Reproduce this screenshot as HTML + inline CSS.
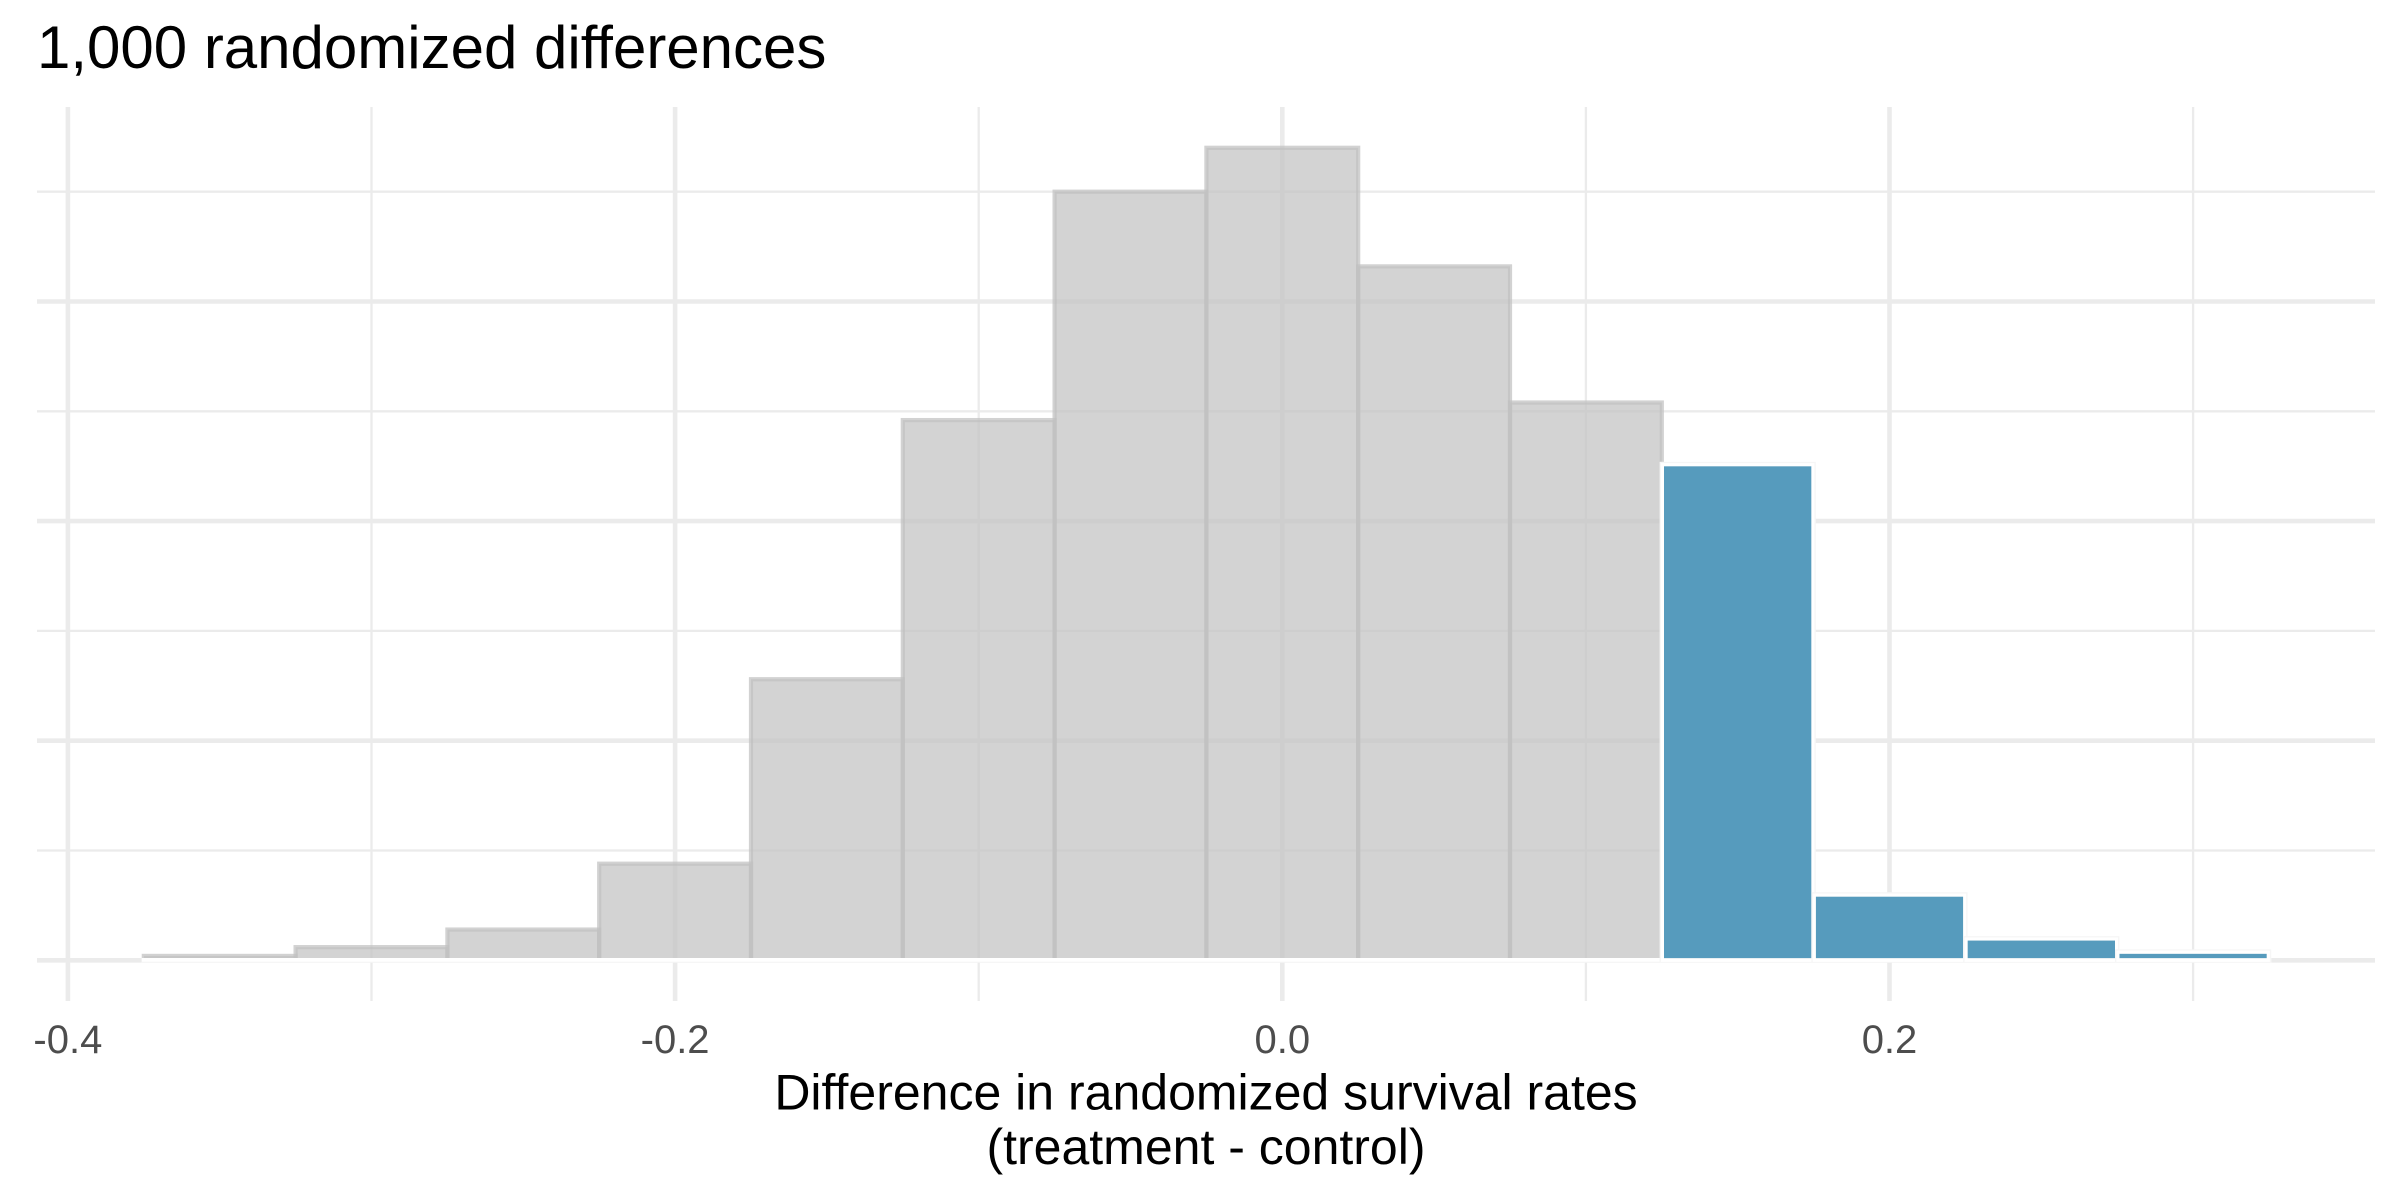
<!DOCTYPE html>
<html>
<head>
<meta charset="utf-8">
<title>1,000 randomized differences</title>
<style>
html,body{margin:0;padding:0;background:#fff;width:2400px;height:1200px;overflow:hidden}
svg{display:block}
text{font-family:"Liberation Sans",Arial,sans-serif}
</style>
</head>
<body>
<svg id="chart" xmlns="http://www.w3.org/2000/svg" width="2400" height="1200" viewBox="0 0 2400 1200">
<rect x="0" y="0" width="2400" height="1200" fill="#ffffff"/>
<g id="grid"></g>
<g id="bars"></g>
<g id="ticks"></g>
<text x="37" y="68" font-size="60" fill="#000000">1,000 randomized differences</text>
<text x="1206" y="1109.5" font-size="50" text-anchor="middle" fill="#000000">Difference in randomized survival rates</text>
<text x="1206" y="1164" font-size="50" text-anchor="middle" fill="#000000">(treatment - control)</text>
</svg>
<script>
const binCenters = [-0.35, -0.30, -0.25, -0.20, -0.15, -0.10, -0.05, 0.00, 0.05, 0.10, 0.15, 0.20, 0.25, 0.30];
const binCounts = [1, 3, 7, 22, 64, 123, 175, 185, 158, 127, 113, 15, 5, 2];
const binWidth = 0.05;
const tailStart = 0.125;
const xMajorTicks = [-0.4, -0.2, 0.0, 0.2];
const xMinorTicks = [-0.3, -0.1, 0.1, 0.3];
const xTickLabels = ['-0.4', '-0.2', '0.0', '0.2'];
const yMajorTicks = [0, 50, 100, 150];
const yMinorTicks = [25, 75, 125, 175];

const NS = 'http://www.w3.org/2000/svg';
const panelLeft = 37, panelRight = 2375, panelTop = 107, panelBottom = 1001;
function xScale(v) { return 1282.3 + 3036 * v; }
function yScale(c) { return 960.3 - 4.392 * c; }
function make(tag, parent, attrs) {
  const el = document.createElementNS(NS, tag);
  for (const k in attrs) el.setAttribute(k, attrs[k]);
  parent.appendChild(el);
  return el;
}
const grid = document.getElementById('grid');
const barsG = document.getElementById('bars');
const ticksG = document.getElementById('ticks');

yMinorTicks.forEach(function (c) {
  const el = make('line', grid, {x1: panelLeft, x2: panelRight, y1: yScale(c), y2: yScale(c), stroke: '#ebebeb', 'stroke-width': 2.3});
  
  
});
xMinorTicks.forEach(function (v) {
  const el = make('line', grid, {x1: xScale(v), x2: xScale(v), y1: panelTop, y2: panelBottom, stroke: '#ebebeb', 'stroke-width': 2.3});
  
  
});
yMajorTicks.forEach(function (c) {
  const el = make('line', grid, {x1: panelLeft, x2: panelRight, y1: yScale(c), y2: yScale(c), stroke: '#ebebeb', 'stroke-width': 4.6});
  
  
});
xMajorTicks.forEach(function (v) {
  const el = make('line', grid, {x1: xScale(v), x2: xScale(v), y1: panelTop, y2: panelBottom, stroke: '#ebebeb', 'stroke-width': 4.6});
  
  
});

// grey bars
binCenters.forEach(function (center, i) {
  const x0 = center - binWidth / 2;
  const x1 = center + binWidth / 2;
  if (x0 >= tailStart - 1e-9) return;
  const px = xScale(x0), pw = xScale(x1) - px, py = yScale(binCounts[i]), ph = yScale(0) - py;
  const el = make('rect', barsG, {x: px, y: py, width: pw, height: ph, fill: 'rgb(194,194,194)', 'fill-opacity': 0.72, stroke: 'rgb(192,192,192)', 'stroke-opacity': 0.72, 'stroke-width': 4.2});
  
  
});

// white baseline strip beneath all bars
(function () {
  const first = binCenters[0] - binWidth / 2;
  const last = binCenters[binCenters.length - 1] + binWidth / 2;
  const strip = make('rect', barsG, {x: xScale(first) - 2.2, y: yScale(0) - 2.3, width: xScale(last) - xScale(first) + 4.4, height: 4.6, fill: '#ffffff'});
  
  
  const edge = make('rect', barsG, {x: xScale(first) - 2.2, y: yScale(0) + 1.4, width: xScale(last) - xScale(first) + 4.4, height: 1, fill: '#f5f5f5'});
  
  
})();

// blue tail bars
binCenters.forEach(function (center, i) {
  const x0 = center - binWidth / 2;
  const x1 = center + binWidth / 2;
  if (x0 < tailStart - 1e-9) return;
  const px = xScale(x0), pw = xScale(x1) - px, py = yScale(binCounts[i]), ph = yScale(0) - py;
  const outer = make('rect', barsG, {x: px, y: py, width: pw, height: ph, fill: '#569BBD', stroke: '#f6f6f6', 'stroke-width': 4.4});
  
  
  const inner = make('rect', barsG, {x: px + 0.65, y: py + 0.65, width: pw - 1.3, height: ph - 0.65, fill: 'none', stroke: '#ffffff', 'stroke-width': 3.1});
  
  
});

// tick labels
xMajorTicks.forEach(function (v, i) {
  const el = make('text', ticksG, {x: xScale(v), y: 1053, 'font-size': 40, 'text-anchor': 'middle', fill: '#4d4d4d'});
  el.textContent = xTickLabels[i];
  
  
});
</script>
</body>
</html>
